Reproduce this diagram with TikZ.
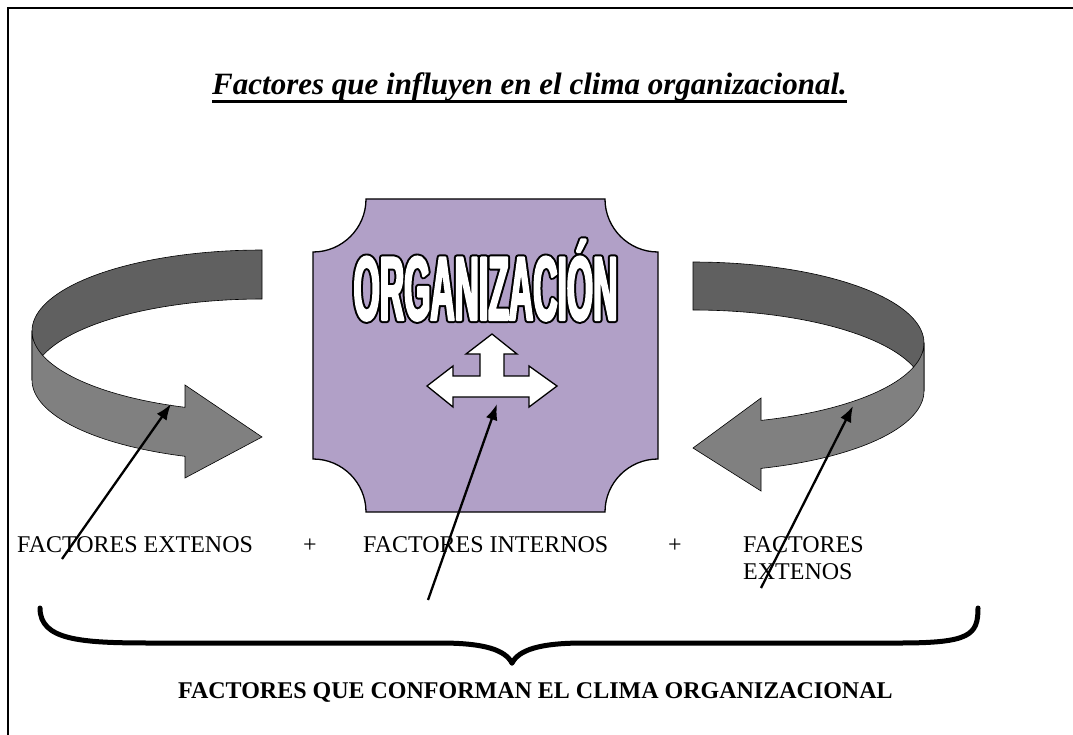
\documentclass[tikz,border=0pt]{standalone}
\usepackage{fontspec}
\setmainfont{Liberation Serif}
\newfontfamily\orgfont{Liberation Sans}[FakeStretch=0.37]
\usetikzlibrary{arrows.meta}
\definecolor{orgfill}{RGB}{177,160,199}
\definecolor{bandDark}{RGB}{96,96,96}
\definecolor{bandLight}{RGB}{128,128,128}
\newcommand{\OrgWordText}[1]{\special{pdf:code 2 Tr #1 w 1 j}\orgfont\bfseries\fontsize{91}{91}\selectfont ORGANIZACIÓN\special{pdf:code 0 Tr}}
\begin{document}
\begin{tikzpicture}[x=1pt,y=-1pt,
  band/.style={draw=black, line width=0.6},
  lab/.style={inner sep=0, font=\fontsize{24}{28}\selectfont},
  orgtext/.style={anchor=base, inner sep=0},
  pointer/.style={line width=2.3, -{Latex[length=16pt,width=12pt]}}]
\useasboundingbox (0,0) rectangle (1073,735);
% frame
\draw[line width=2.5] (8,735) -- (8,8) -- (1073,8);
% title
\node[anchor=base west, inner sep=0, font=\bfseries\itshape\fontsize{31}{36}\selectfont] (title) at (212,95) {Factores que influyen en el clima organizacional.};
\draw[line width=3] ([yshift=-6.5pt]title.base west) -- ([yshift=-6.5pt]title.base east);
% left curved band
\filldraw[band, fill=bandDark] plot[domain=270:180, samples=40] ({262+230*cos(\x)},{331+81*sin(\x)})
  -- plot[domain=180:270, samples=40] ({262+230*cos(\x)},{380+81*sin(\x)}) -- cycle;
\filldraw[band, fill=bandLight] plot[domain=180:109.56, samples=40] ({262+230*cos(\x)},{331+81*sin(\x)})
  -- (185,385) -- (262,437) -- (185,478)
  -- plot[domain=109.56:180, samples=40] ({262+230*cos(\x)},{380+81*sin(\x)}) -- cycle;
% right curved band
\filldraw[band, fill=bandDark] plot[domain=-90:0, samples=40] ({693+231*cos(\x)},{343+81*sin(\x)})
  -- plot[domain=0:-90, samples=40] ({693+231*cos(\x)},{391+81*sin(\x)}) -- cycle;
\filldraw[band, fill=bandLight] plot[domain=0:72.88, samples=40] ({693+231*cos(\x)},{343+81*sin(\x)})
  -- (761,398) -- (693,448) -- (761,491)
  -- plot[domain=72.88:0, samples=40] ({693+231*cos(\x)},{391+81*sin(\x)}) -- cycle;
% organization box
\filldraw[fill=orgfill, draw=black, line width=1.3]
  (366,199) -- (605,199) arc[start angle=180, end angle=90, radius=53]
  -- (658,459) arc[start angle=270, end angle=180, radius=53]
  -- (366,512) arc[start angle=360, end angle=270, radius=53]
  -- (313,252) arc[start angle=90, end angle=0, radius=53] -- cycle;
% outlined word
\coordinate (orgpos) at (485.5,320);
\node[orgtext, text=black] (orgline) at (orgpos) {\OrgWordText{6}};
\node[orgtext, text=white] (org) at (orgpos) {\OrgWordText{2}};
% three-way arrow
\filldraw[fill=white, draw=black, line width=1.3]
  (427,386) -- (453,366) -- (453,376) -- (480,376) -- (480,354) -- (466,354) -- (492,334)
  -- (517,354) -- (504,354) -- (504,376) -- (529,376) -- (529,366) -- (557,386)
  -- (529,407) -- (529,397) -- (453,397) -- (453,407) -- cycle;
% labels
\node[lab, anchor=base west] (fe1) at (17,552) {FACTORES EXTENOS};
\node[lab, anchor=base] (plus1) at (310,552) {+};
\node[lab, anchor=base west] (fi) at (363,552) {FACTORES INTERNOS};
\node[lab, anchor=base] (plus2) at (675,552) {+};
\node[lab, anchor=base west] (fe2a) at (743,552) {FACTORES};
\node[lab, anchor=base west] (fe2b) at (743,579) {EXTENOS};
\node[lab, anchor=base west, font=\bfseries\fontsize{24}{28}\selectfont] (conf) at (178,698) {FACTORES QUE CONFORMAN EL CLIMA ORGANIZACIONAL};
% pointers
\coordinate (p1s) at (62,559); \coordinate (p1e) at (171,404);
\coordinate (p2s) at (428,600); \coordinate (p2e) at (497,404);
\coordinate (p3s) at (761,588); \coordinate (p3e) at (853,406);
\draw[pointer] (p1s) -- (p1e);
\draw[pointer] (p2s) -- (p2e);
\draw[pointer] (p3s) -- (p3e);
% brace
\coordinate (braceL) at (40,608);
\coordinate (braceTip) at (512,663);
\coordinate (braceR) at (978,608);
\draw[line width=5, line cap=round] (braceL) .. controls (40,640) and (80,643) .. (150,643)
  -- (440,643) .. controls (485,643) and (505,650) .. (braceTip);
\draw[line width=5, line cap=round] (braceTip) .. controls (519,650) and (539,643) .. (584,643)
  -- (900,643) .. controls (970,643) and (978,635) .. (braceR);
\end{tikzpicture}
\end{document}
